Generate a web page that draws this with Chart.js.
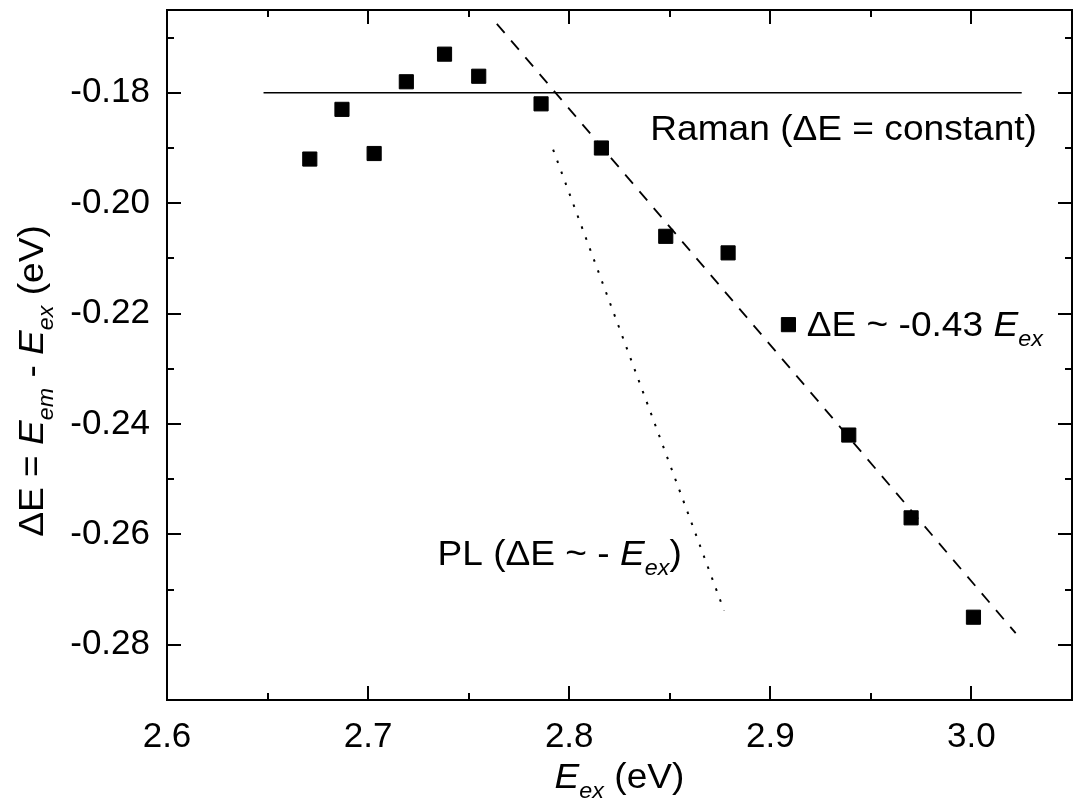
<!DOCTYPE html>
<html>
<head>
<meta charset="utf-8">
<script src="https://cdn.jsdelivr.net/npm/chart.js@4.4.1/dist/chart.umd.min.js"></script>
<style>
  html, body { margin: 0; padding: 0; background: #fff; }
  #wrap { width: 1078px; height: 804px; }
</style>
</head>
<body>
<div id="wrap"><canvas id="chart" width="1078" height="804"></canvas></div>
<script>
// ΔE vs E_ex：量測點 + 三條參考線（Raman 水平線、-0.43 斜率虛線、PL 斜率 -1 點線）

// 量測點
const eEx = [2.671, 2.687, 2.703, 2.719, 2.738, 2.755, 2.786, 2.816, 2.848, 2.879, 2.909, 2.939, 2.970, 3.001]
const deltaE = [-0.192, -0.183, -0.191, -0.178, -0.173, -0.177, -0.182, -0.190, -0.206, -0.209, -0.222, -0.242, -0.257, -0.275]

// 參考線兩端點
const ramanX = [2.648, 3.025]
const ramanY = [-0.180, -0.180]
const fitX = [2.764, 3.022]
const fitY = [-0.1675, -0.2779]
const plX = [2.792, 2.877]
const plY = [-0.1903, -0.2738]

// 軸
const xMajor = [2.6, 2.7, 2.8, 2.9, 3.0]
const xTickLabels = ['2.6', '2.7', '2.8', '2.9', '3.0']
const xMinor = [2.65, 2.75, 2.85, 2.95]
const yMajor = [-0.18, -0.20, -0.22, -0.24, -0.26, -0.28]
const yTickLabels = ['-0.18', '-0.20', '-0.22', '-0.24', '-0.26', '-0.28']
const yMinor = [-0.17, -0.19, -0.21, -0.23, -0.25, -0.27, -0.29]
const X_RANGE = [2.6, 3.05]
const Y_RANGE = [-0.29, -0.165]

const FONT = '"Liberation Sans", Arial, Helvetica, sans-serif'
const FS = 35
const SX = 1.06  // 原圖字型略寬

const toPts = (xs, ys) => xs.map((x, i) => ({ x, y: ys[i] }))

// 文字片段：[text, italic, sub]
const yTitle = [['ΔE = ', 0, 0], ['E', 1, 0], ['em', 1, 1], [' - ', 0, 0], ['E', 1, 0], ['ex', 1, 1], [' (eV)', 0, 0]]
const xTitle = [['E', 1, 0], ['ex', 1, 1], [' (eV)', 0, 0]]
const notes = [
  { x: 2.8403, y: -0.1885, parts: [['Raman (ΔE = constant)', 0, 0]] },
  { x: 2.9181, y: -0.2241, parts: [['ΔE ~ -0.43 ', 0, 0], ['E', 1, 0], ['ex', 1, 1]] },
  { x: 2.7345, y: -0.2656, parts: [['PL (ΔE ~ - ', 0, 0], ['E', 1, 0], ['ex', 1, 1], [')', 0, 0]] },
]

function setFont(ctx, italic, sub) {
  ctx.font = `${italic ? 'italic ' : ''}${sub ? Math.round(FS * 0.62) : FS}px ${FONT}`
}

function partsWidth(ctx, parts) {
  let w = 0
  for (const [t, it, sb] of parts) { setFont(ctx, it, sb); w += ctx.measureText(t).width }
  return w * SX
}

function drawParts(ctx, parts, x, y) {
  ctx.save()
  ctx.translate(x, y)
  ctx.scale(SX, 1)
  let cx = 0
  for (const [t, it, sb] of parts) {
    setFont(ctx, it, sb)
    ctx.fillText(t, cx, sb ? 10 : 0)
    cx += ctx.measureText(t).width
  }
  ctx.restore()
}

const framePlugin = {
  id: 'frame',
  afterDraw(chart) {
    const { ctx, chartArea: a, scales: { x, y } } = chart
    ctx.save()
    ctx.strokeStyle = '#000'
    ctx.lineWidth = 2
    ctx.strokeRect(a.left, a.top, a.right - a.left, a.bottom - a.top)
    ctx.beginPath()
    const tickX = (vals, len) => vals.forEach(v => {
      const px = Math.round(x.getPixelForValue(v))
      ctx.moveTo(px, a.bottom); ctx.lineTo(px, a.bottom - len)
      ctx.moveTo(px, a.top); ctx.lineTo(px, a.top + len)
    })
    const tickY = (vals, len) => vals.forEach(v => {
      const py = Math.round(y.getPixelForValue(v))
      ctx.moveTo(a.left, py); ctx.lineTo(a.left + len, py)
      ctx.moveTo(a.right, py); ctx.lineTo(a.right - len, py)
    })
    tickX(xMajor, 14); tickX(xMinor, 7)
    tickY(yMajor, 14); tickY(yMinor, 7)
    ctx.stroke()

    ctx.fillStyle = '#000'
    ctx.textBaseline = 'alphabetic'
    ctx.textAlign = 'left'
    // 註解文字
    notes.forEach(n => drawParts(ctx, n.parts, x.getPixelForValue(n.x), y.getPixelForValue(n.y)))

    // x 軸標題
    const xw = partsWidth(ctx, xTitle)
    drawParts(ctx, xTitle, (a.left + a.right) / 2 - xw / 2, 788)

    // y 軸標題（旋轉）
    const yw = partsWidth(ctx, yTitle)
    ctx.translate(43, 381)
    ctx.rotate(-Math.PI / 2)
    drawParts(ctx, yTitle, -yw / 2, 0)
    ctx.restore()
  },
}

// 不讓 Chart.js 為標籤溢出多留邊
const noOverflow = s => { s.paddingTop = 0; s.paddingBottom = 0; s.paddingLeft = 0; s.paddingRight = 0 }

new Chart(document.getElementById('chart'), {
  type: 'scatter',
  data: {
    datasets: [
      {
        data: toPts(eEx, deltaE),
        pointStyle: 'rect',
        pointRadius: 10,
        pointBorderWidth: 1,
        backgroundColor: '#000',
        borderColor: '#000',
        showLine: false,
      },
      {
        data: toPts(ramanX, ramanY),
        showLine: true,
        pointRadius: 0,
        borderColor: '#000',
        borderWidth: 1.6,
      },
      {
        data: toPts(fitX, fitY),
        showLine: true,
        pointRadius: 0,
        borderColor: '#000',
        borderWidth: 1.8,
        borderDash: [12, 10],
      },
      {
        data: toPts(plX, plY),
        showLine: true,
        pointRadius: 0,
        borderColor: '#000',
        borderWidth: 2,
        borderDash: [2.5, 9.2],
      },
    ],
  },
  options: {
    responsive: false,
    animation: false,
    events: [],
    layout: { autoPadding: false, padding: { left: 0, top: 10, right: 6, bottom: 0 } },
    plugins: { legend: { display: false }, tooltip: { enabled: false } },
    scales: {
      x: {
        type: 'linear',
        min: X_RANGE[0],
        max: X_RANGE[1],
        grid: { display: false, drawTicks: false },
        border: { display: false },
        afterBuildTicks: s => { s.ticks = xMajor.map(v => ({ value: v })) },
        afterFit: s => { s.height = 104; noOverflow(s) },
        ticks: {
          padding: 16,
          color: '#000',
          font: { family: FONT, size: FS },
          callback: (v, i) => xTickLabels[i],
        },
      },
      y: {
        type: 'linear',
        min: Y_RANGE[0],
        max: Y_RANGE[1],
        grid: { display: false, drawTicks: false },
        border: { display: false },
        afterBuildTicks: s => { s.ticks = yMajor.map(v => ({ value: v })) },
        afterFit: s => { s.width = 167; noOverflow(s) },
        ticks: {
          padding: 17,
          color: '#000',
          font: { family: FONT, size: FS },
          callback: (v, i) => yTickLabels[i],
        },
      },
    },
  },
  plugins: [framePlugin],
})
</script>
</body>
</html>
